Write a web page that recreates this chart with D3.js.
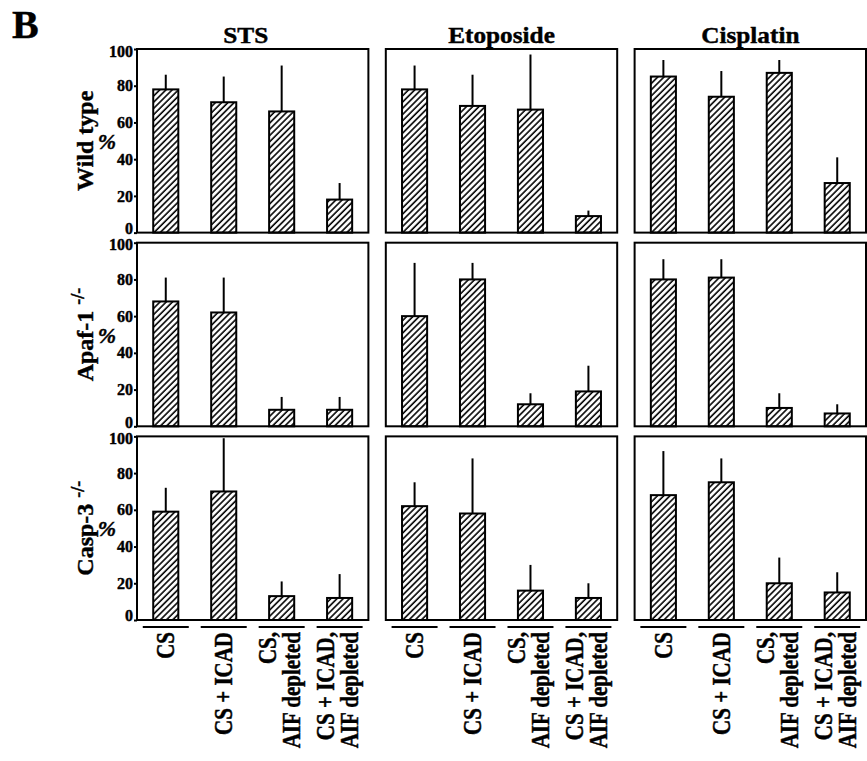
<!DOCTYPE html>
<html>

<head>
    <meta charset="utf-8">
    <script src="https://d3js.org/d3.v7.min.js"></script>
    <style>
        body { margin: 0; background: #fff; }
        text { font-family: "Liberation Serif", "DejaVu Serif", serif; font-weight: bold; fill: #000; stroke: #000; stroke-width: 0.4px; }
    </style>
</head>

<body>
    <div id="viz"></div>

    <script>

        // treatments (columns) and cell lines (rows)
        var drugs = ["STS", "Etoposide", "Cisplatin"];
        var cellLines = ["Wild type", "Apaf-1", "Casp-3"];
        var cellSup = ["", "-/-", "-/-"];

        // bar categories, one array of text lines per bar
        var conditions = ["CS", "CS + ICAD", "CS, AIF depleted", "CS + ICAD, AIF depleted"];
        var conditionLines = [["CS"], ["CS + ICAD"], ["CS,", "AIF depleted"], ["CS + ICAD,", "AIF depleted"]];

        var yTicks = [0, 20, 40, 60, 80, 100];

        // % values, rows = drug (STS, Etoposide, Cisplatin), cols = condition
        var wildTypeMean = [[78, 71, 66, 18], [78, 69, 67, 9], [85, 74, 87, 27]];
        var wildTypeErr = [[8, 14, 25, 9], [13, 17, 30, 3], [9, 14, 7, 14]];

        var apafMean = [[68, 62, 9, 9], [60, 80, 12, 19], [80, 81, 10, 7]];
        var apafErr = [[13, 19, 7, 7], [29, 9, 6, 14], [11, 10, 8, 5]];

        var caspMean = [[59, 70, 13, 12], [62, 58, 16, 12], [68, 75, 20, 15]];
        var caspErr = [[13, 29, 8, 13], [13, 30, 14, 8], [24, 13, 14, 11]];

        var means = [wildTypeMean, apafMean, caspMean];
        var errs = [wildTypeErr, apafErr, caspErr];

        var W = 867, H = 761;

        var svg = d3.select("#viz")
            .append("svg")
            .attr("width", W)
            .attr("height", H);

        // hatch fill
        var defs = svg.append("defs");
        defs.append("pattern")
            .attr("id", "hatch")
            .attr("patternUnits", "userSpaceOnUse")
            .attr("width", 4.4)
            .attr("height", 4.4)
            .attr("patternTransform", "rotate(45)")
            .append("line")
            .attr("x1", 1).attr("y1", 0)
            .attr("x2", 1).attr("y2", 4.4)
            .attr("stroke", "#000")
            .attr("stroke-width", 1.6);

        // panel grid
        var col = d3.scaleBand().domain(drugs).range([137, 866]).paddingInner(0.07);
        var row = d3.scaleBand().domain(cellLines).range([49, 620]).paddingInner(0.052);

        var pw = col.bandwidth(), ph = row.bandwidth();

        var x = d3.scaleBand()
            .domain(conditions)
            .range([0, pw])
            .paddingInner(0.567)
            .paddingOuter(0.28);

        var y = d3.scaleLinear().domain([0, 100]).range([ph, 0]);

        // figure letter
        svg.append("text")
            .attr("x", 12).attr("y", 38)
            .style("font-size", "40px")
            .text("B");

        // column titles
        svg.selectAll(".title")
            .data(drugs)
            .enter()
            .append("text")
            .attr("class", "title")
            .attr("transform", function (d) {
                return "translate(" + (col(d) + pw / 2 - (d == "STS" ? 7 : 0)) + ",43) scale(1.1,1)"
            })
            .attr("text-anchor", "middle")
            .style("font-size", "23px")
            .text(function (d) { return d });

        // row labels
        cellLines.forEach(function (c, r) {
            var cy = row(c) + ph / 2;
            var t = svg.append("text")
                .attr("transform", "translate(85," + cy + ") rotate(-90)")
                .attr("text-anchor", "middle")
                .attr("dy", "0.35em")
                .style("font-size", "24px")
                .text(c);
            if (cellSup[r]) {
                t.append("tspan")
                    .attr("dx", 6)
                    .attr("dy", "-0.55em")
                    .style("font-size", "18px")
                    .text(cellSup[r]);
            }
            svg.append("text")
                .attr("x", 107).attr("y", cy + 8)
                .attr("text-anchor", "middle")
                .style("font-size", "22px")
                .style("font-style", "italic")
                .text("%");
        });

        // panels
        cellLines.forEach(function (c, r) {
            drugs.forEach(function (d, k) {
                var g = svg.append("g")
                    .attr("transform", "translate(" + col(d) + "," + row(c) + ")");

                var data = conditions.map(function (cond, i) {
                    return { cond: cond, mean: means[r][k][i], err: errs[r][k][i] };
                });

                // error bars (upper only)
                g.selectAll(".err")
                    .data(data)
                    .enter()
                    .append("line")
                    .attr("x1", function (e) { return x(e.cond) + x.bandwidth() / 2 })
                    .attr("x2", function (e) { return x(e.cond) + x.bandwidth() / 2 })
                    .attr("y1", function (e) { return y(e.mean) })
                    .attr("y2", function (e) { return y(e.mean + e.err) })
                    .attr("stroke", "#000")
                    .attr("stroke-width", 2);

                g.selectAll(".bar")
                    .data(data)
                    .enter()
                    .append("rect")
                    .attr("x", function (e) { return x(e.cond) })
                    .attr("y", function (e) { return y(e.mean) })
                    .attr("width", x.bandwidth())
                    .attr("height", function (e) { return y(0) - y(e.mean) })
                    .attr("fill", "url(#hatch)")
                    .attr("stroke", "#000")
                    .attr("stroke-width", 2);

                // frame
                g.append("rect")
                    .attr("width", pw)
                    .attr("height", ph)
                    .attr("fill", "none")
                    .attr("stroke", "#000")
                    .attr("stroke-width", 2);

                if (k == 0) {
                    var ax = g.append("g")
                        .call(d3.axisLeft(y).tickValues(yTicks).tickSize(3).tickPadding(1));
                    ax.select(".domain").remove();
                    ax.selectAll("line").attr("stroke", "#000").attr("stroke-width", 2);
                    ax.selectAll("text")
                        .style("font-family", "Liberation Serif")
                        .style("font-weight", "bold")
                        .style("font-size", "16px")
                        .attr("fill", "#000")
                        // nudge end labels inside the frame like the original
                        .attr("dy", function (v) { return v == 0 ? "0.05em" : (v == 100 ? "0.45em" : "0.32em") });
                }

                // category labels under the bottom row
                if (r == cellLines.length - 1) {
                    g.selectAll(".catline")
                        .data(conditions)
                        .enter()
                        .append("line")
                        .attr("x1", function (e) { return x(e) + x.bandwidth() / 2 - 23 })
                        .attr("x2", function (e) { return x(e) + x.bandwidth() / 2 + 23 })
                        .attr("y1", ph + 7)
                        .attr("y2", ph + 7)
                        .attr("stroke", "#000")
                        .attr("stroke-width", 2);

                    conditions.forEach(function (cond, i) {
                        var lines = conditionLines[i];
                        var cx = x(cond) + x.bandwidth() / 2;
                        lines.forEach(function (ln, j) {
                            var off = lines.length == 1 ? 0 : (j == 0 ? -14 : 10);
                            g.append("text")
                                .attr("transform", "translate(" + (cx + off) + "," + (ph + 12) + ") rotate(-90) scale(1,1.15)")
                                .attr("text-anchor", "end")
                                .attr("dy", "0.35em")
                                .style("font-size", "21px")
                                .text(ln);
                        });
                    });
                }
            });
        });

    </script>
</body>

</html>
